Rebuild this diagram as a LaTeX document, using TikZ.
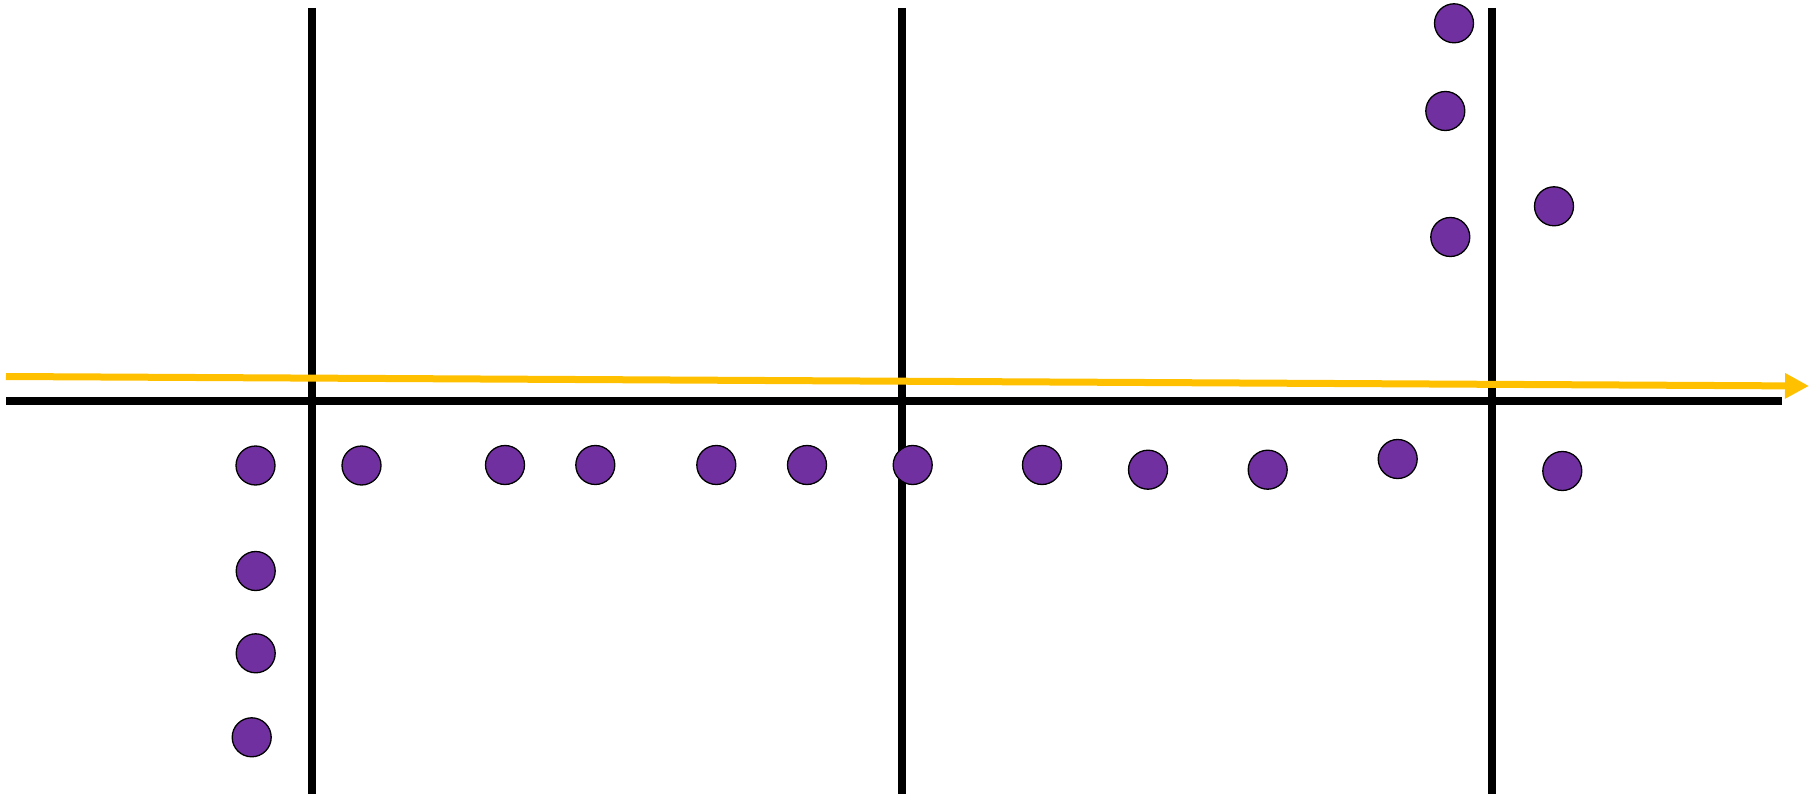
\documentclass[tikz,border=0pt]{standalone}
\usetikzlibrary{arrows.meta}
\definecolor{dotpurple}{HTML}{7030A0}
\definecolor{arrowyellow}{HTML}{FFC000}
\tikzset{
  axisline/.style={line width=7.8pt, black},
  trend/.style={line width=7pt, arrowyellow, -{Triangle[length=24pt,width=24pt]}},
  dot/.style={circle, draw=black, line width=1.3pt, fill=dotpurple, minimum size=39pt, inner sep=0pt}
}
\begin{document}
\begin{tikzpicture}[x=1pt,y=-1pt]
\useasboundingbox (0,0) rectangle (1820,794);
% vertical lines
\coordinate (v1t) at (312,8);   \coordinate (v1b) at (312,794);
\coordinate (v2t) at (902,8);   \coordinate (v2b) at (902,794);
\coordinate (v3t) at (1492,8);  \coordinate (v3b) at (1492,794);
\draw[axisline] (v1t) -- (v1b);
\draw[axisline] (v2t) -- (v2b);
\draw[axisline] (v3t) -- (v3b);
% horizontal line
\coordinate (hl) at (6,401); \coordinate (hr) at (1782,401);
\draw[axisline] (hl) -- (hr);
% yellow arrow
\coordinate (ys) at (6,376.5); \coordinate (ye) at (1809,386);
\draw[trend] (ys) -- (ye);
% dots
\node[dot] (d1)  at (255.5,465.5) {};
\node[dot] (d2)  at (361.5,465.5) {};
\node[dot] (d3)  at (505,465) {};
\node[dot] (d4)  at (595.3,465) {};
\node[dot] (d5)  at (716.3,465) {};
\node[dot] (d6)  at (807,465) {};
\node[dot] (d7)  at (912.7,465) {};
\node[dot] (d8)  at (1042,465) {};
\node[dot] (d9)  at (1148,469.7) {};
\node[dot] (d10) at (1267.7,469.7) {};
\node[dot] (d11) at (1397.7,459) {};
\node[dot] (d12) at (1562.3,471) {};
\node[dot] (c1) at (255.7,571) {};
\node[dot] (c2) at (255.7,653.3) {};
\node[dot] (c3) at (251.7,737.3) {};
\node[dot] (t1) at (1454,23.3) {};
\node[dot] (t2) at (1445.3,111) {};
\node[dot] (t3) at (1450.3,237) {};
\node[dot] (t4) at (1554,206.3) {};
\end{tikzpicture}
\end{document}
